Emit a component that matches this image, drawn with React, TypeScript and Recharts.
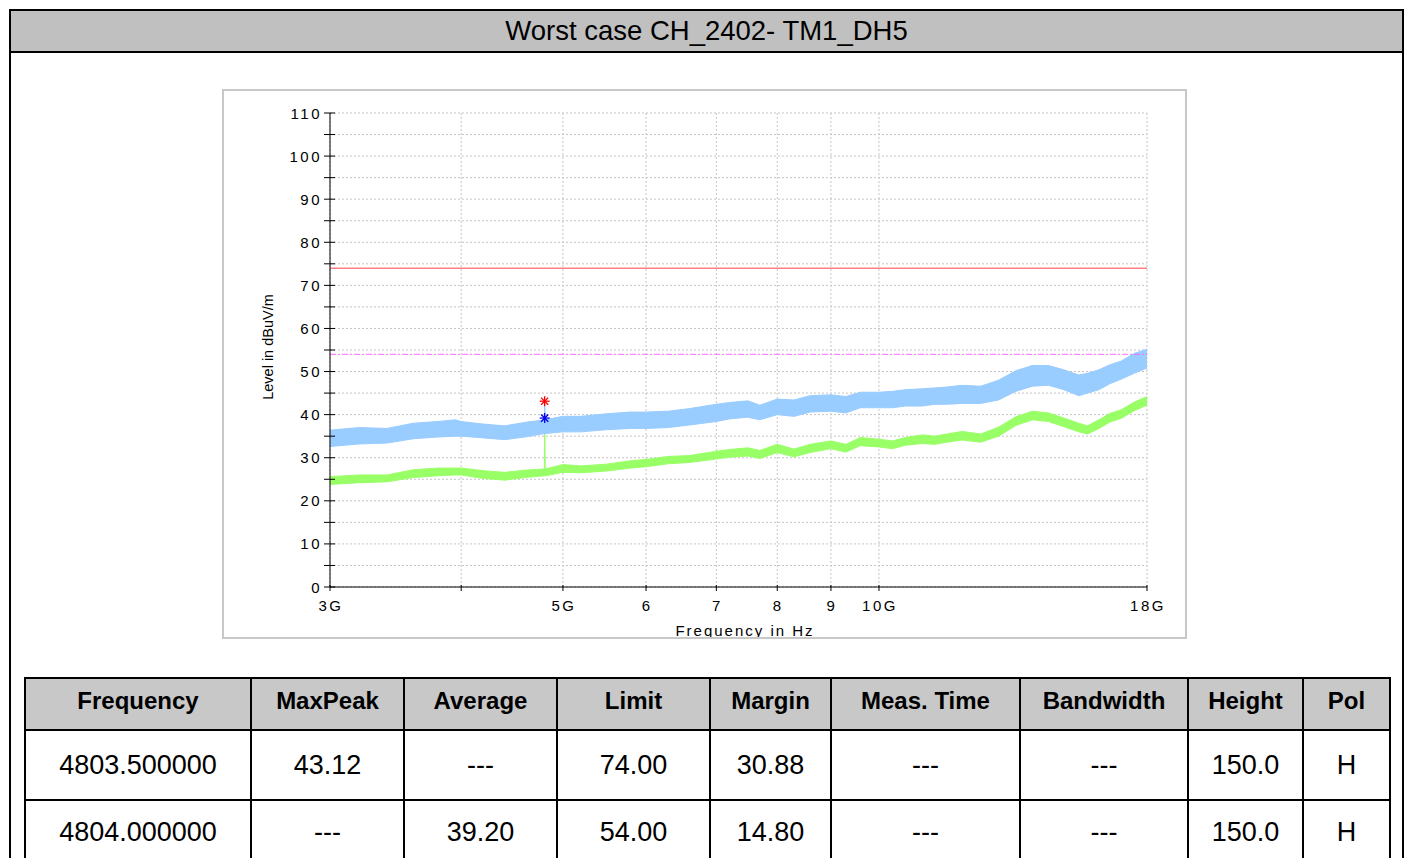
import { Area, CartesianGrid, ComposedChart, ReferenceLine, Scatter, XAxis, YAxis } from "recharts";

// trace values (GHz / dBuV/m)
const freqGHz = [3.0, 3.2, 3.4, 3.6, 3.8, 3.95, 4.0, 4.2, 4.4, 4.6, 4.8, 5.0, 5.2, 5.5, 5.8, 6.0, 6.3, 6.6, 7.0, 7.2, 7.5, 7.7, 8.0, 8.3, 8.6, 9.0, 9.3, 9.6, 10.0, 10.3, 10.6, 11.0, 11.3, 11.6, 12.0, 12.5, 13.0, 13.5, 14.0, 14.5, 15.0, 15.5, 15.8, 16.2, 16.6, 17.0, 17.5, 18.0];
const peakLow = [32.6, 33.2, 33.4, 34.4, 34.8, 35.0, 35.0, 34.6, 34.2, 34.8, 35.4, 36.0, 36.0, 36.5, 36.8, 36.8, 37.0, 37.6, 38.4, 39.0, 39.4, 38.8, 40.0, 39.6, 40.6, 40.8, 40.4, 41.6, 41.6, 41.6, 42.0, 42.0, 42.4, 42.4, 42.6, 42.6, 43.4, 45.4, 46.6, 46.8, 45.8, 44.4, 45.0, 45.8, 47.2, 48.2, 49.6, 50.8];
const peakHigh = [36.4, 37.0, 36.8, 38.0, 38.4, 38.8, 38.4, 37.8, 37.4, 38.2, 38.8, 39.6, 39.6, 40.2, 40.6, 40.6, 40.8, 41.4, 42.4, 42.8, 43.2, 42.2, 43.6, 43.4, 44.4, 44.6, 44.2, 45.2, 45.2, 45.4, 45.8, 46.0, 46.2, 46.4, 46.8, 46.6, 48.0, 50.2, 51.4, 51.4, 50.4, 49.2, 49.6, 50.4, 51.6, 52.4, 54.2, 55.2];
const avgLow = [23.8, 24.2, 24.4, 25.4, 25.8, 26.0, 26.0, 25.2, 24.8, 25.4, 25.8, 26.6, 26.5, 26.9, 27.6, 27.9, 28.6, 28.9, 29.7, 30.1, 30.4, 29.8, 31.2, 30.2, 31.2, 32.1, 31.3, 32.8, 32.5, 32.1, 32.9, 33.3, 33.1, 33.6, 34.1, 33.6, 35.0, 37.5, 38.8, 38.4, 37.2, 36.0, 35.5, 36.8, 38.3, 39.1, 40.9, 42.2];
const avgHigh = [25.6, 26.0, 26.0, 27.2, 27.6, 27.6, 27.6, 27.0, 26.6, 27.1, 27.4, 28.4, 28.1, 28.5, 29.3, 29.6, 30.3, 30.5, 31.5, 31.9, 32.3, 31.7, 33.1, 32.0, 33.1, 33.9, 33.1, 34.7, 34.3, 33.9, 34.7, 35.3, 35.0, 35.5, 36.1, 35.5, 37.1, 39.5, 40.8, 40.4, 39.2, 38.0, 37.4, 38.8, 40.3, 41.1, 42.9, 44.2];

// narrow spike of the emission at ~4.8 GHz
const peakSpikeFreq = [4.797, 4.8035, 4.81];
const peakSpikeLow = [35.6, 35.6, 35.6];
const peakSpikeHigh = [38.8, 43.12, 38.8];
const avgSpikeFreq = [4.798, 4.804, 4.81];
const avgSpikeLow = [25.8, 25.8, 25.8];
const avgSpikeHigh = [27.4, 39.2, 27.4];

const peakMarker = { f: 4.8035, v: 43.12 };
const avgMarker = { f: 4.804, v: 39.2 };

const limitPeak = 74;
const limitAvg = 54;

const xTicks = [3, 4, 5, 6, 7, 8, 9, 10, 18];
const xTickLabels = ["3G", "", "5G", "6", "7", "8", "9", "10G", "18G"];
const yTicks = [0, 5, 10, 15, 20, 25, 30, 35, 40, 45, 50, 55, 60, 65, 70, 75, 80, 85, 90, 95, 100, 105, 110];

const tableHead = ["Frequency", "MaxPeak", "Average", "Limit", "Margin", "Meas. Time", "Bandwidth", "Height", "Pol"];
const tableRows = [
  ["4803.500000", "43.12", "---", "74.00", "30.88", "---", "---", "150.0", "H"],
  ["4804.000000", "---", "39.20", "54.00", "14.80", "---", "---", "150.0", "H"],
];
const colWidths = [226, 153, 153, 153, 121, 189, 168, 115, 87];
const rowHeights = [70, 64];

const FONT = "'Liberation Sans', Arial, sans-serif";
const PLOT_LEFT = 108;
const PLOT_BOTTOM = 498;

function band(fs: number[], lo: number[], hi: number[], sf: number[], sl: number[], sh: number[]) {
  const rows = fs.map((f, i) => ({ f, r: [lo[i], hi[i]] }));
  sf.forEach((f, i) => rows.push({ f, r: [sl[i], sh[i]] }));
  return rows.sort((a, b) => a.f - b.f);
}

const peakRows = band(freqGHz, peakLow, peakHigh, peakSpikeFreq, peakSpikeLow, peakSpikeHigh);
const avgRows = band(freqGHz, avgLow, avgHigh, avgSpikeFreq, avgSpikeLow, avgSpikeHigh);

function XTick(props: any) {
  const { x, payload } = props;
  const label = xTickLabels[xTicks.indexOf(payload.value)] ?? "";
  return (
    <g>
      <line x1={x} x2={x} y1={PLOT_BOTTOM - 2} y2={PLOT_BOTTOM + 4} stroke="#000" />
      <text x={x + 1} y={PLOT_BOTTOM + 24} textAnchor="middle" fontSize={15} letterSpacing={2.5} fontFamily={FONT} fill="#000">
        {label}
      </text>
    </g>
  );
}

function YTick(props: any) {
  const { y, payload } = props;
  const v = payload.value as number;
  return (
    <g>
      <line x1={PLOT_LEFT - 6} x2={PLOT_LEFT + 5} y1={y} y2={y} stroke="#000" />
      {v % 10 === 0 && (
        <text x={PLOT_LEFT - 8} y={y + 5.5} textAnchor="end" fontSize={15} letterSpacing={2.5} fontFamily={FONT} fill="#000">
          {v}
        </text>
      )}
    </g>
  );
}

function YLabel() {
  return (
    <text x={51} y={258} transform="rotate(-90 51 258)" textAnchor="middle" fontSize={14.5} fontFamily={FONT} fill="#000">
      Level in dBuV/m
    </text>
  );
}

function XLabel() {
  return (
    <text x={523} y={547} textAnchor="middle" fontSize={15} letterSpacing={2} fontFamily={FONT} fill="#000">
      Frequency in Hz
    </text>
  );
}

function Asterisk(props: any) {
  const { cx, cy, color } = props;
  const r = 5;
  const d = 3.6;
  return (
    <g stroke={color} strokeWidth={1.3}>
      <line x1={cx - r} x2={cx + r} y1={cy} y2={cy} />
      <line x1={cx} x2={cx} y1={cy - r} y2={cy + r} />
      <line x1={cx - d} x2={cx + d} y1={cy - d} y2={cy + d} />
      <line x1={cx - d} x2={cx + d} y1={cy + d} y2={cy - d} />
    </g>
  );
}

function EmissionChart() {
  return (
    <ComposedChart width={965} height={550} margin={{ top: 24, right: 40, bottom: 22, left: 0 }}>
      <CartesianGrid stroke="#c4c4c4" strokeDasharray="2 2" />
      <XAxis
        dataKey="f"
        type="number"
        scale="log"
        domain={[3, 18]}
        allowDataOverflow
        ticks={xTicks}
        interval={0}
        height={30}
        tickLine={false}
        axisLine={{ stroke: "#000" }}
        tick={<XTick />}
        label={<XLabel />}
      />
      <YAxis
        type="number"
        domain={[0, 110]}
        ticks={yTicks}
        interval={0}
        width={108}
        tickLine={false}
        axisLine={{ stroke: "#000" }}
        tick={<YTick />}
        label={<YLabel />}
      />
      <Area data={avgRows} dataKey="r" type="linear" stroke="#99ff66" strokeWidth={1} fill="#99ff66" fillOpacity={1} dot={false} activeDot={false} isAnimationActive={false} />
      <Area data={peakRows} dataKey="r" type="linear" stroke="#99ccff" strokeWidth={1} fill="#99ccff" fillOpacity={1} dot={false} activeDot={false} isAnimationActive={false} />
      <ReferenceLine y={limitPeak} stroke="#ff8080" strokeWidth={1.5} />
      <ReferenceLine y={limitAvg} stroke="#ff66ff" strokeWidth={1} strokeDasharray="6 2 2 2" />
      <Scatter data={[peakMarker]} dataKey="v" shape={(p: any) => <Asterisk {...p} color="#ff0000" />} isAnimationActive={false} />
      <Scatter data={[avgMarker]} dataKey="v" shape={(p: any) => <Asterisk {...p} color="#0000ee" />} isAnimationActive={false} />
    </ComposedChart>
  );
}

export default function App() {
  const cell = { border: "2px solid #000", textAlign: "center" as const, padding: 0 };
  return (
    <div style={{ position: "absolute", left: 0, top: 0, width: 1410, height: 858, overflow: "hidden", background: "#fff", fontFamily: FONT }}>
      <div style={{ position: "absolute", left: 9, top: 9, width: 1395, height: 900, border: "2px solid #000", boxSizing: "border-box" }}>
        <div style={{ height: 40, background: "#c0c0c0", borderBottom: "2px solid #000", display: "flex", alignItems: "center", justifyContent: "center", fontSize: 27.5, color: "#000" }}>
          Worst case CH_2402- TM1_DH5
        </div>
      </div>

      <div style={{ position: "absolute", left: 222, top: 89, width: 965, height: 550 }}>
        <EmissionChart />
      </div>
      <div style={{ position: "absolute", left: 222, top: 89, width: 965, height: 550, border: "2px solid #c8c8c8", boxSizing: "border-box", pointerEvents: "none" }} />

      <table style={{ position: "absolute", left: 24, top: 677, borderCollapse: "collapse", tableLayout: "fixed", width: 1367, color: "#000" }}>
        <colgroup>
          {colWidths.map((w, i) => (
            <col key={i} style={{ width: w }} />
          ))}
        </colgroup>
        <thead>
          <tr style={{ height: 52, background: "#c8c8c8" }}>
            {tableHead.map((h) => (
              <th key={h} style={{ ...cell, fontSize: 24, fontWeight: 700, paddingBottom: 6 }}>
                {h}
              </th>
            ))}
          </tr>
        </thead>
        <tbody>
          {tableRows.map((row, ri) => (
            <tr key={ri} style={{ height: rowHeights[ri] }}>
              {row.map((c, ci) => (
                <td key={ci} style={{ ...cell, fontSize: 27 }}>
                  {c}
                </td>
              ))}
            </tr>
          ))}
        </tbody>
      </table>
    </div>
  );
}
